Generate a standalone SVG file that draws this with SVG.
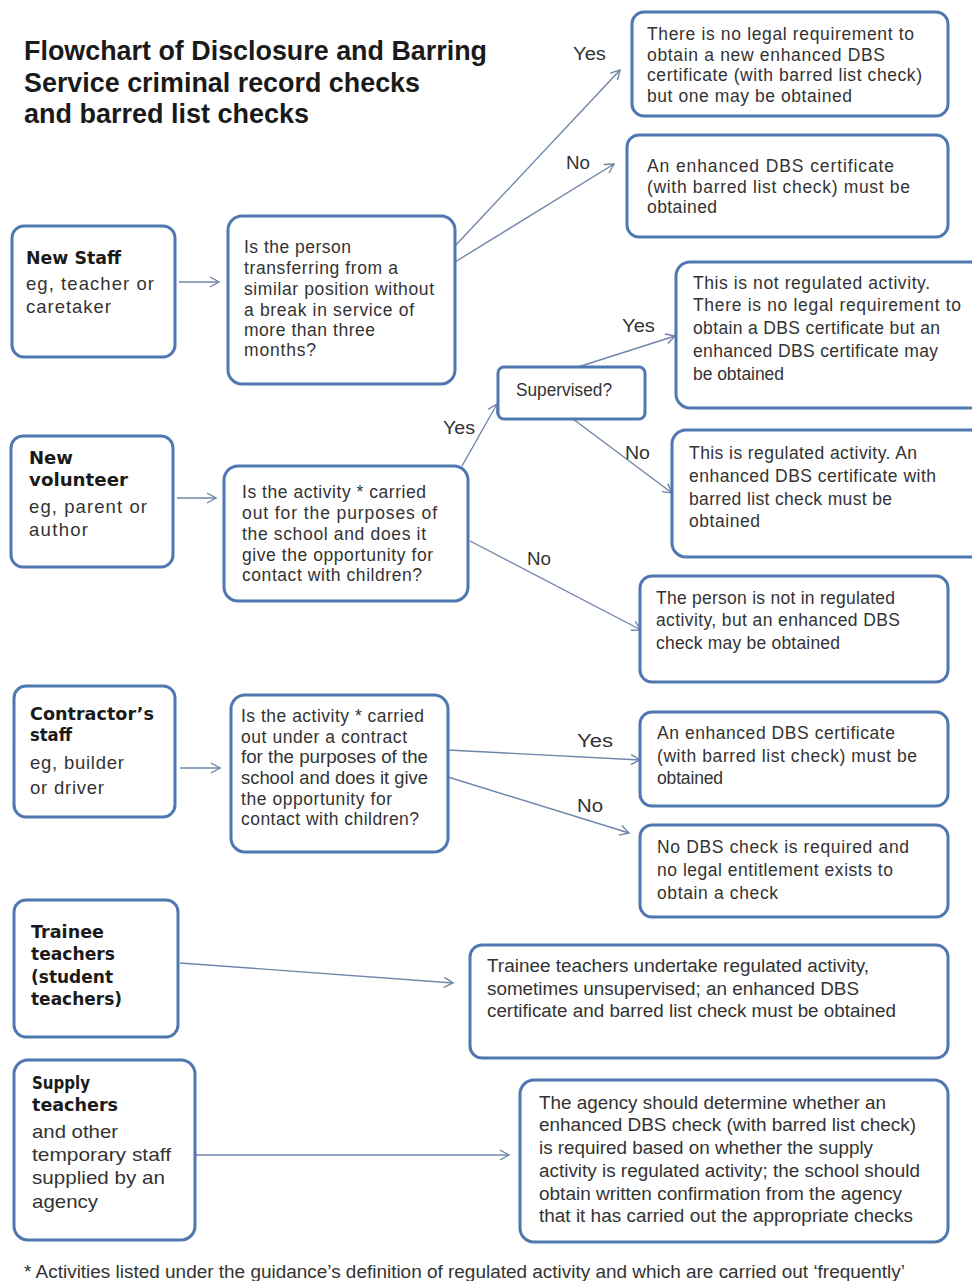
<svg xmlns="http://www.w3.org/2000/svg" width="972" height="1281" viewBox="0 0 972 1281">
<defs>
<marker id="arr" markerUnits="userSpaceOnUse" markerWidth="14" markerHeight="14" refX="10" refY="6" orient="auto">
<path d="M1,1 L10,6 L1,11" fill="none" stroke="#6f86a8" stroke-width="1.4"/>
</marker>
</defs>
<style>
.box{fill:#fff;stroke:#4f77b0;stroke-width:3}
.t{font-family:"Liberation Sans",Arial,sans-serif;font-size:17.5px;fill:#333}
.tn{font-family:"Liberation Sans",Arial,sans-serif;font-size:18px;fill:#333}
.tl{font-family:"Liberation Sans",Arial,sans-serif;font-size:18.5px;fill:#333}
.b{font-family:"DejaVu Sans","Liberation Sans",sans-serif;font-weight:bold;font-size:17px;fill:#1a1a1a}
.lab{font-family:"Liberation Sans",Arial,sans-serif;font-size:17.5px;fill:#333}
.title{font-family:"Liberation Sans",Arial,sans-serif;font-weight:bold;font-size:27px;fill:#1a1a1a}
.c{fill:none;stroke:#6f86a8;stroke-width:1.4;marker-end:url(#arr)}
</style>
<rect width="972" height="1281" fill="#fff"/>
<g id="title">
<text class="title" x="24" y="60" textLength="463" lengthAdjust="spacingAndGlyphs">Flowchart of Disclosure and Barring</text>
<text class="title" x="24" y="92" textLength="396" lengthAdjust="spacingAndGlyphs">Service criminal record checks</text>
<text class="title" x="24" y="123" textLength="285" lengthAdjust="spacingAndGlyphs">and barred list checks</text>
</g>
<g id="connectors">
<line class="c" x1="179" y1="282" x2="219" y2="282"/>
<line class="c" x1="455" y1="246" x2="620" y2="70"/>
<line class="c" x1="455" y1="262" x2="614" y2="164"/>
<line class="c" x1="177" y1="498" x2="216" y2="498"/>
<line class="c" x1="462" y1="466" x2="497" y2="404"/>
<line class="c" x1="578" y1="367" x2="675" y2="336"/>
<line class="c" x1="573" y1="419" x2="672" y2="493"/>
<line class="c" x1="470" y1="541" x2="641" y2="630"/>
<line class="c" x1="180" y1="768" x2="220" y2="768"/>
<line class="c" x1="448" y1="750" x2="640" y2="760"/>
<line class="c" x1="448" y1="777" x2="629" y2="833"/>
<line class="c" x1="180" y1="963" x2="453" y2="983"/>
<line class="c" x1="196" y1="1155" x2="509" y2="1155"/>
<text class="lab" x="573" y="60" textLength="33" lengthAdjust="spacingAndGlyphs">Yes</text>
<text class="lab" x="566" y="169" textLength="24" lengthAdjust="spacingAndGlyphs">No</text>
<text class="lab" x="443" y="434" textLength="32" lengthAdjust="spacingAndGlyphs">Yes</text>
<text class="lab" x="622" y="332" textLength="33" lengthAdjust="spacingAndGlyphs">Yes</text>
<text class="lab" x="625" y="459" textLength="25" lengthAdjust="spacingAndGlyphs">No</text>
<text class="lab" x="527" y="565" textLength="24" lengthAdjust="spacingAndGlyphs">No</text>
<text class="lab" x="577" y="747" textLength="36" lengthAdjust="spacingAndGlyphs">Yes</text>
<text class="lab" x="577" y="812" textLength="26" lengthAdjust="spacingAndGlyphs">No</text>
</g>
<g id="n_yes1">
<rect class="box" x="632" y="12" width="316" height="104" rx="12"/>
<text class="t" x="647" y="40" textLength="267" lengthAdjust="spacing">There is no legal requirement to</text>
<text class="t" x="647" y="61" textLength="238" lengthAdjust="spacing">obtain a new enhanced DBS</text>
<text class="t" x="647" y="81" textLength="275" lengthAdjust="spacing">certificate (with barred list check)</text>
<text class="t" x="647" y="102" textLength="205" lengthAdjust="spacing">but one may be obtained</text>
</g>
<g id="n_no1">
<rect class="box" x="627" y="135" width="321" height="102" rx="12"/>
<text class="t" x="647" y="172" textLength="247" lengthAdjust="spacing">An enhanced  DBS certificate</text>
<text class="t" x="647" y="193" textLength="263" lengthAdjust="spacing">(with barred list check) must be</text>
<text class="t" x="647" y="213" textLength="70" lengthAdjust="spacing">obtained</text>
</g>
<g id="n_newstaff">
<rect class="box" x="12" y="226" width="163" height="131" rx="12"/>
<text class="b" x="26" y="264" textLength="95" lengthAdjust="spacingAndGlyphs">New Staff</text>
<text class="tl" x="26" y="290" textLength="128" lengthAdjust="spacing">eg, teacher or</text>
<text class="tl" x="26" y="313" textLength="85" lengthAdjust="spacing">caretaker</text>
</g>
<g id="n_q1">
<rect class="box" x="228" y="216" width="227" height="168" rx="14"/>
<text class="t" x="244" y="253" textLength="107" lengthAdjust="spacing">Is the person</text>
<text class="t" x="244" y="274" textLength="154" lengthAdjust="spacing">transferring  from  a</text>
<text class="t" x="244" y="295" textLength="190" lengthAdjust="spacing">similar position without</text>
<text class="t" x="244" y="316" textLength="170" lengthAdjust="spacing">a break in service of</text>
<text class="t" x="244" y="336" textLength="131" lengthAdjust="spacing">more than three</text>
<text class="t" x="244" y="356" textLength="72" lengthAdjust="spacing">months?</text>
</g>
<g id="n_notreg">
<rect class="box" x="676" y="262" width="310" height="146" rx="14"/>
<text class="t" x="693" y="289" textLength="237" lengthAdjust="spacing">This is not regulated activity.</text>
<text class="t" x="693" y="311" textLength="268" lengthAdjust="spacing">There is no legal requirement to</text>
<text class="t" x="693" y="334" textLength="247" lengthAdjust="spacing">obtain a DBS certificate but an</text>
<text class="t" x="693" y="357" textLength="245" lengthAdjust="spacing">enhanced DBS certificate may</text>
<text class="t" x="693" y="380" textLength="91" lengthAdjust="spacing">be obtained</text>
</g>
<g id="n_supervised">
<rect class="box" x="498" y="367" width="147" height="52" rx="6"/>
<text class="t" x="516" y="396" textLength="96" lengthAdjust="spacingAndGlyphs">Supervised?</text>
</g>
<g id="n_reg">
<rect class="box" x="672" y="430" width="314" height="127" rx="14"/>
<text class="t" x="689" y="459" textLength="228" lengthAdjust="spacing">This is regulated activity. An</text>
<text class="t" x="689" y="482" textLength="247" lengthAdjust="spacing">enhanced DBS certificate  with</text>
<text class="t" x="689" y="505" textLength="203" lengthAdjust="spacing">barred list check must be</text>
<text class="t" x="689" y="527" textLength="71" lengthAdjust="spacing">obtained</text>
</g>
<g id="n_volunteer">
<rect class="box" x="11" y="436" width="162" height="131" rx="12"/>
<text class="b" x="29" y="464" textLength="44" lengthAdjust="spacingAndGlyphs">New</text>
<text class="b" x="29" y="486" textLength="99" lengthAdjust="spacingAndGlyphs">volunteer</text>
<text class="tl" x="29" y="513" textLength="118" lengthAdjust="spacing">eg, parent or</text>
<text class="tl" x="29" y="536" textLength="59" lengthAdjust="spacing">author</text>
</g>
<g id="n_q2">
<rect class="box" x="224" y="466" width="244" height="135" rx="14"/>
<text class="t" x="242" y="498" textLength="184" lengthAdjust="spacing">Is the activity * carried</text>
<text class="t" x="242" y="519" textLength="195" lengthAdjust="spacing">out  for the purposes of</text>
<text class="t" x="242" y="540" textLength="184" lengthAdjust="spacing">the school and does it</text>
<text class="t" x="242" y="561" textLength="191" lengthAdjust="spacing">give  the opportunity for</text>
<text class="t" x="242" y="581" textLength="180" lengthAdjust="spacing">contact with children?</text>
</g>
<g id="n_notinreg">
<rect class="box" x="640" y="576" width="308" height="106" rx="12"/>
<text class="t" x="656" y="604" textLength="239" lengthAdjust="spacing">The  person  is not in regulated</text>
<text class="t" x="656" y="626" textLength="244" lengthAdjust="spacing">activity, but an enhanced DBS</text>
<text class="t" x="656" y="649" textLength="184" lengthAdjust="spacing">check may be obtained</text>
</g>
<g id="n_contractor">
<rect class="box" x="14" y="686" width="161" height="131" rx="12"/>
<text class="b" x="30" y="720" textLength="124" lengthAdjust="spacingAndGlyphs">Contractor’s</text>
<text class="b" x="30" y="741" textLength="42" lengthAdjust="spacingAndGlyphs">staff</text>
<text class="tl" x="30" y="769" textLength="94" lengthAdjust="spacing">eg, builder</text>
<text class="tl" x="30" y="794" textLength="74" lengthAdjust="spacing">or driver</text>
</g>
<g id="n_q3">
<rect class="box" x="231" y="695" width="217" height="157" rx="14"/>
<text class="t" x="241" y="722" textLength="183" lengthAdjust="spacing">Is the activity * carried</text>
<text class="t" x="241" y="743" textLength="166" lengthAdjust="spacing">out under a contract</text>
<text class="t" x="241" y="763" textLength="187" lengthAdjust="spacingAndGlyphs">for the purposes of the</text>
<text class="t" x="241" y="784" textLength="187" lengthAdjust="spacingAndGlyphs">school and does it give</text>
<text class="t" x="241" y="805" textLength="151" lengthAdjust="spacing">the opportunity for</text>
<text class="t" x="241" y="825" textLength="178" lengthAdjust="spacing">contact with children?</text>
</g>
<g id="n_contract_yes">
<rect class="box" x="640" y="712" width="308" height="94" rx="12"/>
<text class="t" x="657" y="739" textLength="238" lengthAdjust="spacing">An enhanced DBS certificate</text>
<text class="t" x="657" y="762" textLength="260" lengthAdjust="spacing">(with barred  list check) must be</text>
<text class="t" x="657" y="784" textLength="66" lengthAdjust="spacing">obtained</text>
</g>
<g id="n_contract_no">
<rect class="box" x="640" y="825" width="308" height="92" rx="12"/>
<text class="t" x="657" y="853" textLength="252" lengthAdjust="spacing">No DBS check is required  and</text>
<text class="t" x="657" y="876" textLength="236" lengthAdjust="spacing">no legal entitlement exists to</text>
<text class="t" x="657" y="899" textLength="121" lengthAdjust="spacing">obtain  a check</text>
</g>
<g id="n_trainee">
<rect class="box" x="14" y="900" width="164" height="137" rx="12"/>
<text class="b" x="31" y="938" textLength="73" lengthAdjust="spacingAndGlyphs">Trainee</text>
<text class="b" x="31" y="960" textLength="84" lengthAdjust="spacingAndGlyphs">teachers</text>
<text class="b" x="31" y="983" textLength="82" lengthAdjust="spacingAndGlyphs">(student</text>
<text class="b" x="31" y="1005" textLength="91" lengthAdjust="spacingAndGlyphs">teachers)</text>
</g>
<g id="n_trainee_res">
<rect class="box" x="470" y="945" width="478" height="113" rx="12"/>
<text class="tn" x="487" y="972" textLength="382" lengthAdjust="spacingAndGlyphs">Trainee  teachers undertake regulated activity,</text>
<text class="tn" x="487" y="995" textLength="372" lengthAdjust="spacingAndGlyphs">sometimes unsupervised;  an enhanced DBS</text>
<text class="tn" x="487" y="1017" textLength="409" lengthAdjust="spacingAndGlyphs">certificate and barred list check must be obtained</text>
</g>
<g id="n_supply">
<rect class="box" x="14" y="1060" width="181" height="180" rx="14"/>
<text class="b" x="32" y="1089" textLength="58" lengthAdjust="spacingAndGlyphs">Supply</text>
<text class="b" x="32" y="1111" textLength="86" lengthAdjust="spacingAndGlyphs">teachers</text>
<text class="tl" x="32" y="1138" textLength="86" lengthAdjust="spacingAndGlyphs">and other</text>
<text class="tl" x="32" y="1161" textLength="139" lengthAdjust="spacingAndGlyphs">temporary staff</text>
<text class="tl" x="32" y="1184" textLength="133" lengthAdjust="spacingAndGlyphs">supplied by an</text>
<text class="tl" x="32" y="1208" textLength="66" lengthAdjust="spacingAndGlyphs">agency</text>
</g>
<g id="n_supply_res">
<rect class="box" x="520" y="1080" width="428" height="162" rx="14"/>
<text class="tn" x="539" y="1109" textLength="347" lengthAdjust="spacingAndGlyphs">The agency should determine whether an</text>
<text class="tn" x="539" y="1131" textLength="377" lengthAdjust="spacingAndGlyphs">enhanced DBS check (with barred list check)</text>
<text class="tn" x="539" y="1154" textLength="334" lengthAdjust="spacingAndGlyphs">is required  based on whether the supply</text>
<text class="tn" x="539" y="1177" textLength="381" lengthAdjust="spacingAndGlyphs">activity is regulated activity; the school should</text>
<text class="tn" x="539" y="1200" textLength="363" lengthAdjust="spacingAndGlyphs">obtain written confirmation from the agency</text>
<text class="tn" x="539" y="1222" textLength="374" lengthAdjust="spacingAndGlyphs">that it has carried out the appropriate  checks</text>
</g>
<g id="footnote">
<text class="tn" x="24" y="1278" textLength="881" lengthAdjust="spacingAndGlyphs">* Activities listed under the guidance’s definition of regulated activity and which are carried out ‘frequently’</text>
</g>
</svg>
